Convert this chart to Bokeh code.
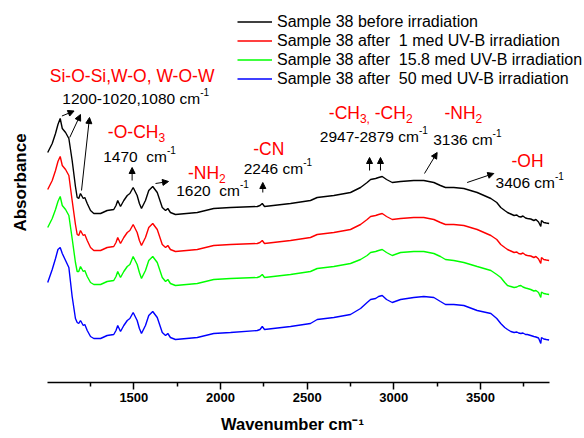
from bokeh.plotting import figure
from bokeh.models import Range1d, FixedTicker, Label, Arrow, NormalHead, Legend, LegendItem
from bokeh.embed import file_html
from bokeh.resources import INLINE

# ---------------- data (absorbance in arbitrary offset units) ----------------
wavenumber = [
    1003, 1029, 1048, 1062, 1075, 1087, 1106, 1125, 1144, 1163,
    1173, 1182, 1192, 1208, 1217, 1231, 1250, 1269, 1308, 1346,
    1384, 1397, 1407, 1423, 1442, 1462, 1477, 1496, 1519, 1532,
    1544, 1567, 1586, 1609, 1635, 1664, 1683, 1696, 1711, 1740,
    1804, 1866, 1961, 2058, 2212, 2228, 2241, 2254, 2404, 2519,
    2558, 2654, 2750, 2808, 2846, 2866, 2895, 2912, 2933, 2958,
    2991, 3039, 3115, 3173, 3231, 3269, 3298, 3346, 3404, 3481,
    3560, 3594, 3617, 3640, 3656, 3675, 3694, 3710, 3720, 3733,
    3745, 3760, 3771, 3790, 3808, 3820, 3835, 3848, 3852, 3865,
    3880, 3896,
]
before_irradiation = [
    2.30, 2.39, 2.49, 2.58, 2.64, 2.54, 2.50, 2.44, 2.22, 1.96,
    1.85, 1.84, 1.89, 1.84, 1.85, 1.79, 1.72, 1.69, 1.69, 1.72,
    1.73, 1.77, 1.82, 1.76, 1.82, 1.87, 1.89, 1.95, 1.87, 1.79,
    1.74, 1.82, 1.92, 1.96, 1.90, 1.75, 1.72, 1.74, 1.70, 1.68,
    1.69, 1.70, 1.74, 1.75, 1.76, 1.77, 1.79, 1.76, 1.79, 1.82,
    1.85, 1.87, 1.90, 1.95, 2.00, 2.03, 2.04, 2.05, 2.06, 2.03,
    2.00, 2.01, 2.02, 2.02, 2.00, 1.97, 1.95, 1.95, 1.94, 1.90,
    1.84, 1.80, 1.75, 1.72, 1.70, 1.685, 1.67, 1.675, 1.66, 1.655,
    1.665, 1.645, 1.64, 1.635, 1.62, 1.63, 1.605, 1.56, 1.62, 1.60,
    1.595, 1.59,
]
after_1_med = [
    1.93, 2.02, 2.12, 2.21, 2.26, 2.17, 2.13, 2.07, 1.82, 1.58,
    1.48, 1.47, 1.52, 1.47, 1.48, 1.42, 1.35, 1.32, 1.32, 1.35,
    1.36, 1.40, 1.45, 1.39, 1.45, 1.50, 1.52, 1.58, 1.50, 1.42,
    1.37, 1.45, 1.55, 1.59, 1.53, 1.38, 1.35, 1.37, 1.33, 1.31,
    1.32, 1.33, 1.37, 1.38, 1.39, 1.40, 1.42, 1.39, 1.42, 1.45,
    1.48, 1.50, 1.53, 1.58, 1.63, 1.66, 1.67, 1.68, 1.69, 1.66,
    1.63, 1.64, 1.65, 1.65, 1.63, 1.60, 1.58, 1.58, 1.57, 1.53,
    1.47, 1.43, 1.38, 1.35, 1.33, 1.315, 1.30, 1.305, 1.29, 1.285,
    1.295, 1.275, 1.27, 1.265, 1.25, 1.26, 1.235, 1.19, 1.25, 1.23,
    1.225, 1.22,
]
after_15_8_med = [
    1.55, 1.64, 1.73, 1.81, 1.86, 1.77, 1.73, 1.67, 1.44, 1.20,
    1.11, 1.11, 1.16, 1.11, 1.12, 1.06, 1.00, 0.98, 0.98, 1.01,
    1.02, 1.06, 1.11, 1.05, 1.11, 1.16, 1.18, 1.26, 1.18, 1.10,
    1.04, 1.12, 1.22, 1.26, 1.20, 1.05, 1.01, 1.03, 0.99, 0.97,
    0.98, 0.99, 1.03, 1.04, 1.05, 1.06, 1.08, 1.05, 1.08, 1.11,
    1.14, 1.16, 1.19, 1.23, 1.27, 1.30, 1.31, 1.32, 1.33, 1.30,
    1.27, 1.30, 1.31, 1.31, 1.29, 1.26, 1.23, 1.22, 1.20, 1.16,
    1.12, 1.08, 1.05, 1.00, 0.97, 0.96, 0.95, 0.955, 0.965, 0.97,
    0.955, 0.945, 0.94, 0.93, 0.915, 0.92, 0.90, 0.85, 0.905, 0.89,
    0.885, 0.88,
]
after_50_med = [
    1.00, 1.13, 1.24, 1.33, 1.35, 1.29, 1.22, 1.15, 0.86, 0.64,
    0.60, 0.59, 0.62, 0.57, 0.58, 0.52, 0.46, 0.44, 0.44, 0.47,
    0.48, 0.52, 0.57, 0.51, 0.57, 0.62, 0.64, 0.70, 0.62, 0.54,
    0.49, 0.57, 0.67, 0.71, 0.65, 0.50, 0.47, 0.49, 0.45, 0.43,
    0.44, 0.45, 0.49, 0.50, 0.52, 0.53, 0.56, 0.53, 0.56, 0.59,
    0.63, 0.65, 0.68, 0.74, 0.80, 0.83, 0.84, 0.86, 0.87, 0.83,
    0.80, 0.83, 0.85, 0.86, 0.85, 0.81, 0.78, 0.78, 0.77, 0.72,
    0.69, 0.64, 0.59, 0.55, 0.53, 0.51, 0.50, 0.505, 0.495, 0.49,
    0.495, 0.48, 0.48, 0.47, 0.46, 0.455, 0.445, 0.39, 0.45, 0.435,
    0.43, 0.425,
]
series_names = [
    "Sample 38 before irradiation",
    "Sample 38 after  1 med UV-B irradiation",
    "Sample 38 after  15.8 med UV-B irradiation",
    "Sample 38 after  50 med UV-B irradiation",
]
series_values = [before_irradiation, after_1_med, after_15_8_med, after_50_med]
series_colors = ["#000000", "#FF0000", "#00FF00", "#0000FF"]

x_ticks = [1500, 2000, 2500, 3000, 3500]
x_minor_ticks = [1250, 1750, 2250, 2750, 3250, 3750]

NB = "\u00a0"
# annotations: (wavenumber, absorbance) anchor, parts (text, kind)
annotations = [
    (1015, 3.07, [("Si-O-Si,W-O, W-O-W", "red")]),
    (1087, 2.84, [("1200-1020,1080 cm", "black"), ("-1", "sup")]),
    (1350, 2.51, [("-O-CH", "red"), ("3", "sub")]),
    (1323, 2.26, [("1470 " + NB + "cm", "black"), ("-1", "sup")]),
    (1812, 2.10, [("-NH", "red"), ("2", "sub")]),
    (1744, 1.92, [("1620 " + NB + "cm", "black"), ("-1", "sup")]),
    (2189, 2.34, [("-CN", "red")]),
    (2134, 2.14, [("2246 cm", "black"), ("-1", "sup")]),
    (2625, 2.70, [("-CH", "red"), ("3,", "sub"), (NB + "-CH", "red"), ("2", "sub")]),
    (2573, 2.46, [("2947-2879 cm", "black"), ("-1", "sup")]),
    (3292, 2.70, [("-NH", "red"), ("2", "sub")]),
    (3227, 2.43, [("3136 cm", "black"), ("-1", "sup")]),
    (3679, 2.22, [("-OH", "red")]),
    (3587, 2.00, [("3406 cm", "black"), ("-1", "sup")]),
]
# arrows: (x_start, y_start, x_end, y_end)
arrows = [
    (1085, 2.665, 1155, 2.715),
    (1130, 2.45, 1192, 2.68),
    (1198, 1.92, 1244, 2.65),
    (1490, 2.02, 1490, 2.15),
    (1625, 1.99, 1700, 2.01),
    (2244, 1.90, 2244, 2.00),
    (2860, 2.12, 2860, 2.25),
    (2923, 2.12, 2923, 2.25),
    (3177, 2.09, 3250, 2.30),
    (3423, 2.00, 3577, 2.09),
]

# ---------------- figure ----------------
W, H = 584, 438
AX_LEFT_PX, AX_RIGHT_PX = 46.7, 549.3      # where 1000 and 3900 sit on the canvas
AXIS_Y_PX = 382                            # axis line position
XA, XB = 1000, 3900
scale = (AX_RIGHT_PX - AX_LEFT_PX) / (XB - XA)
X0 = XA - AX_LEFT_PX / scale
X1 = XB + (W - AX_RIGHT_PX) / scale
Y0, Y1 = 0, AXIS_Y_PX / 100.0
FONT = "Liberation Sans"

p = figure(width=W, height=H, output_backend="svg", toolbar_location=None,
           x_range=Range1d(X0, X1), y_range=Range1d(Y0, Y1),
           min_border_left=0, min_border_right=0,
           min_border_top=0, min_border_bottom=H - AXIS_Y_PX)
p.outline_line_color = None
p.grid.visible = False
p.yaxis.visible = False
p.background_fill_color = "white"
p.border_fill_color = "white"

ax = p.xaxis[0]
ax.bounds = (XA, XB)
ax.ticker = FixedTicker(ticks=x_ticks, minor_ticks=x_minor_ticks)
ax.axis_line_width = 1.5
ax.major_tick_line_width = 1.5
ax.minor_tick_line_width = 1.5
ax.major_tick_in = 0
ax.major_tick_out = 7
ax.minor_tick_in = 0
ax.minor_tick_out = 4
ax.major_label_text_font = FONT
ax.major_label_text_font_style = "bold"
ax.major_label_text_font_size = "13px"
ax.major_label_standoff = 3
ax.major_label_text_color = "black"
ax.axis_label = "Wavenumber cm\u207b\u00b9"
ax.axis_label_text_font = FONT
ax.axis_label_text_font_style = "bold"
ax.axis_label_text_font_size = "16.5px"
ax.axis_label_text_color = "black"
ax.axis_label_standoff = 10

items = []
for name, vals, col in zip(series_names, series_values, series_colors):
    assert len(vals) == len(wavenumber)
    r = p.line(wavenumber, vals, line_color=col, line_width=1.4)
    items.append(LegendItem(label=name, renderers=[r]))

legend = Legend(items=items, location=(237, 294), orientation="vertical",
                border_line_color=None, background_fill_alpha=0,
                padding=0, spacing=0, margin=0, glyph_width=35, glyph_height=19,
                label_height=19, label_standoff=5,
                label_text_font=FONT, label_text_font_size="16px",
                label_text_color="black")
p.add_layout(legend)

# ----- text helpers -----
REG = {' ': 278, NB: 278, ',': 278, '-': 333, '.': 278, 'B': 667, 'C': 722, 'H': 722, 'N': 722,
       'O': 778, 'S': 667, 'W': 944, 'c': 500, 'm': 833, 'i': 222}


def text_width(txt, size):
    return sum(REG.get(ch, 556) for ch in txt) / 1000.0 * size


STYLES = {
    "red": dict(size=17.5, dy=0, color="#FF0000"),
    "black": dict(size=15.5, dy=0, color="black"),
    "sup": dict(size=10, dy=7, color="black"),
    "sub": dict(size=12, dy=-6, color="#FF0000"),
}


def place(x, y, parts):
    dx = 0.0
    for txt, kind in parts:
        st = STYLES[kind]
        p.add_layout(Label(x=x, y=y, x_offset=dx, y_offset=st["dy"], text=txt,
                           text_font=FONT, text_font_size=f'{st["size"]}px',
                           text_color=st["color"], text_align="left",
                           text_baseline="middle"))
        dx += text_width(txt, st["size"])


for x, y, parts in annotations:
    place(x, y, parts)

for xs, ys, xe, ye in arrows:
    p.add_layout(Arrow(end=NormalHead(size=6, fill_color="black", line_color="black", line_width=1),
                       x_start=xs, y_start=ys, x_end=xe, y_end=ye,
                       line_color="black", line_width=1))

p.add_layout(Label(x=846, y=2.0, text="Absorbance", angle=90, angle_units="deg",
                   text_font=FONT, text_font_size="17px", text_font_style="bold",
                   text_color="black", text_align="center", text_baseline="middle"))

open("out.html", "w").write(file_html(p, INLINE))
